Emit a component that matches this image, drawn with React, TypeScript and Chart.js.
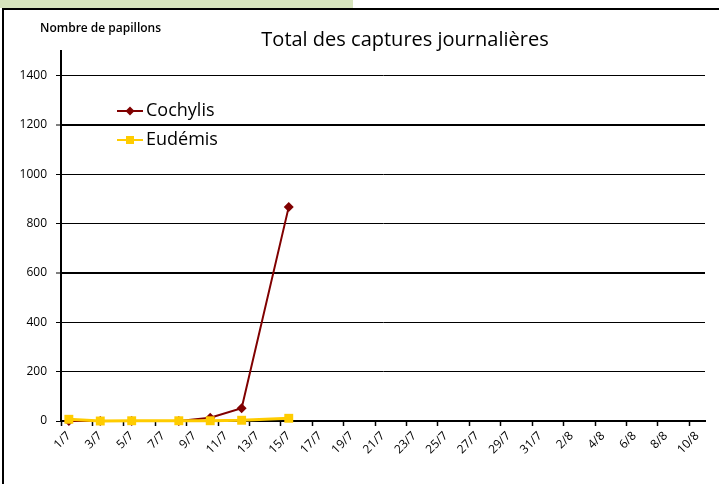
import { useEffect, useRef } from 'react';
import { Chart, registerables } from 'chart.js';

Chart.register(...registerables);

const days = [
  '1/7', '2/7', '3/7', '4/7', '5/7', '6/7', '7/7', '8/7', '9/7', '10/7',
  '11/7', '12/7', '13/7', '14/7', '15/7', '16/7', '17/7', '18/7', '19/7', '20/7',
  '21/7', '22/7', '23/7', '24/7', '25/7', '26/7', '27/7', '28/7', '29/7', '30/7',
  '31/7', '1/8', '2/8', '3/8', '4/8', '5/8', '6/8', '7/8', '8/8', '9/8', '10/8',
];
const sampleDates = ['1/7', '3/7', '5/7', '8/7', '10/7', '12/7', '15/7'];
const cochylis = [0, 0, 0, 0, 13, 52, 868];
const eudemis = [7, 0, 1, 1, 1, 3, 11];

const TITLE = 'Total des captures journalières';
const Y_CAPTION = 'Nombre de papillons';
const FONT = "'Open Sans', sans-serif";

const overlayPlugin = {
  id: 'overlay',
  afterDraw(chart: any) {
    const ctx = chart.ctx;
    ctx.save();
    ctx.fillStyle = '#000';
    ctx.textBaseline = 'middle';
    ctx.font = `20px ${FONT}`;
    ctx.textAlign = 'center';
    ctx.fillText(TITLE, 405, 40);
    ctx.font = `600 12px ${FONT}`;
    ctx.textAlign = 'left';
    ctx.fillText(Y_CAPTION, 40, 29);

    // legend inside the plot
    chart.data.datasets.forEach((ds: any, i: number) => {
      const y = 111 + i * 29;
      ctx.strokeStyle = ds.borderColor;
      ctx.lineWidth = 2;
      ctx.beginPath();
      ctx.moveTo(117, y);
      ctx.lineTo(143, y);
      ctx.stroke();
      ctx.fillStyle = ds.borderColor;
      ctx.beginPath();
      if (ds.pointStyle === 'rectRot') {
        ctx.moveTo(130, y - 4.5);
        ctx.lineTo(134.5, y);
        ctx.lineTo(130, y + 4.5);
        ctx.lineTo(125.5, y);
      } else {
        ctx.rect(126, y - 4, 8, 8);
      }
      ctx.closePath();
      ctx.fill();
      ctx.fillStyle = '#000';
      ctx.font = `18px ${FONT}`;
      ctx.textAlign = 'left';
      ctx.fillText(ds.label, 146, y);
    });
    ctx.restore();
  },
};

export default function App() {
  const ref = useRef<HTMLCanvasElement>(null);

  useEffect(() => {
    if (!ref.current) return;
    const chart = new Chart(ref.current, {
      type: 'line',
      data: {
        labels: days,
        datasets: [
          {
            label: 'Cochylis',
            data: sampleDates.map((d, i) => ({ x: d, y: cochylis[i] })) as any,
            borderColor: '#800000',
            backgroundColor: '#800000',
            borderWidth: 2,
            pointStyle: 'rectRot',
            pointRadius: 5,
            pointBorderWidth: 0,
            tension: 0,
            clip: false as any,
            order: 2,
          },
          {
            label: 'Eudémis',
            data: sampleDates.map((d, i) => ({ x: d, y: eudemis[i] })) as any,
            borderColor: '#FFCC00',
            backgroundColor: '#FFCC00',
            borderWidth: 3,
            pointStyle: 'rect',
            pointRadius: 6.3,
            pointBorderWidth: 0,
            tension: 0,
            clip: false as any,
            order: 1,
          },
        ],
      },
      options: {
        responsive: false,
        animation: false,
        layout: { padding: { top: 51, right: 14, left: 0, bottom: 0 } },
        plugins: {
          legend: { display: false },
          title: { display: false },
          tooltip: { enabled: false },
        },
        scales: {
          x: {
            type: 'category',
            offset: true,
            grid: {
              offset: true,
              drawOnChartArea: false,
              drawTicks: true,
              tickLength: 5,
              tickColor: (c: any) => (c.index !== undefined && c.index % 2 === 0 ? '#000' : 'rgba(0,0,0,0)'),
              tickWidth: 1.5,
            },
            border: { display: true, color: '#000', width: 2 },
            ticks: {
              autoSkip: false,
              maxRotation: 45,
              minRotation: 45,
              padding: 3,
              color: '#000',
              font: { family: FONT, size: 12 },
              callback: (_v: any, idx: number) => (idx % 2 === 0 ? days[idx] : ''),
            },
            afterFit: (s: any) => {
              s.height = 63;
            },
          },
          y: {
            min: 0,
            max: 1500,
            ticks: {
              stepSize: 200,
              padding: 9,
              color: '#000',
              font: { family: FONT, size: 12 },
              callback: (v: any) => (v > 1400 ? '' : String(v)),
            },
            grid: {
              color: (c: any) => (c.tick && c.tick.value > 1400 ? 'rgba(0,0,0,0)' : '#000'),
              lineWidth: (c: any) => (c.tick && (c.tick.value === 1200 || c.tick.value === 600) ? 2 : 1),
              tickLength: 5,
              tickWidth: 1,
            },
            border: { display: true, color: '#000', width: 2 },
            afterFit: (s: any) => {
              s.width = 61;
            },
          },
        },
      },
      plugins: [overlayPlugin],
    });
    return () => chart.destroy();
  }, []);

  return (
    <div style={{ position: 'fixed', left: 0, top: 0, width: 719, height: 484, background: '#fff', overflow: 'hidden' }}>
      <div style={{ position: 'absolute', left: 0, top: 0, width: 353, height: 8, background: '#D7E4BD' }} />
      <div style={{ position: 'absolute', left: 2, top: 8, width: 900, height: 700, border: '2px solid #000', boxSizing: 'border-box' }} />
      <canvas ref={ref} width={719} height={484} style={{ position: 'absolute', left: 0, top: 0 }} />
    </div>
  );
}
